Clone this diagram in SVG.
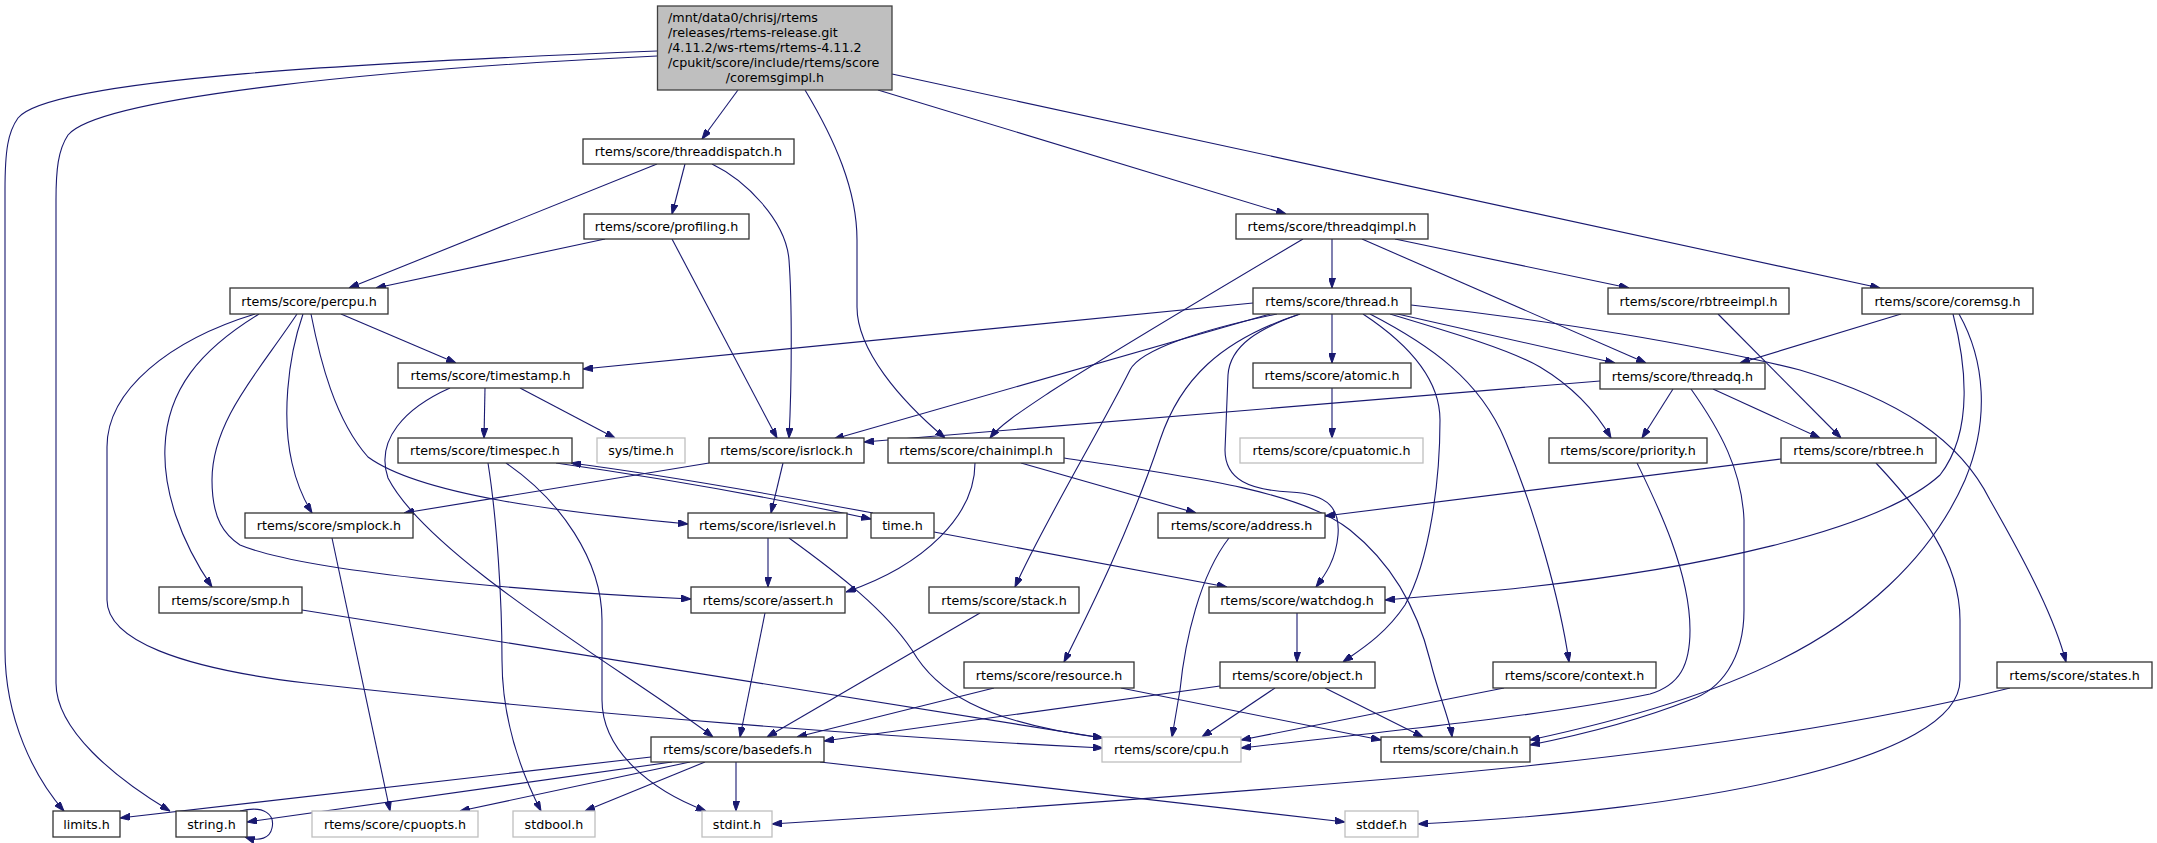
<svg xmlns="http://www.w3.org/2000/svg" width="2157" height="843" viewBox="0 0 2157 843">
<style>
.n rect{fill:#fff;stroke:#333;stroke-width:1.3}
.g rect{fill:#fff;stroke:#bfbfbf;stroke-width:1.3}
.r rect{fill:#bfbfbf;stroke:#404040;stroke-width:1.3}
text{font-family:"DejaVu Sans","Liberation Sans",sans-serif;font-size:12.7px;fill:#000}
.c{text-anchor:middle}
#edges path{fill:none;stroke:#191970;stroke-width:1.1;marker-end:url(#a)}
</style>
<defs>
<marker id="a" viewBox="0 0 10 7" refX="10" refY="3.5" markerWidth="10" markerHeight="7" markerUnits="userSpaceOnUse" orient="auto"><path d="M0,0L10,3.5L0,7z" fill="#191970" stroke="#191970" stroke-width="1"/></marker>
</defs>
<rect width="2157" height="843" fill="#fff"/>
<g id="edges">
<path d="M657,51 C380,62 50,78 18,118 C8,132 5,150 5,190 L5,650 C5,720 35,778 64,811"/>
<path d="M657,56 C400,68 100,96 68,135 C58,150 56,170 56,200 L56,683 C56,730 115,778 170,811"/>
<path d="M738,90 L702,139"/>
<path d="M805,90 C835,140 857,190 857,240 L857,307 C857,350 900,400 945,438"/>
<path d="M878,90 L1286,214"/>
<path d="M892,74 L1880,288"/>
<path d="M657,164 L349,288"/>
<path d="M685,164 L672,214"/>
<path d="M712,164 C745,180 786,220 789,260 C792,300 792,380 789,438"/>
<path d="M605,239 L376,288"/>
<path d="M672,239 L777,438"/>
<path d="M341,314 L456,363"/>
<path d="M303,314 C287,360 282,420 292,463 C297,485 304,500 312,513"/>
<path d="M259,314 C200,350 167,390 165,447 C163,490 180,540 212,587"/>
<path d="M255,314 C170,340 107,390 107,447 L107,600 C107,640 180,668 306,683 C600,716 900,738 1103,748"/>
<path d="M297,314 C260,370 212,420 212,480 C212,520 225,535 240,545 C300,570 500,590 691,599"/>
<path d="M311,314 C320,360 335,420 368,457 C420,495 560,512 688,524"/>
<path d="M485,388 L484,438"/>
<path d="M520,388 L615,438"/>
<path d="M450,388 C405,408 375,440 388,478 C430,560 640,680 713,737"/>
<path d="M488,463 C497,520 502,600 502,660 C502,720 520,770 541,811"/>
<path d="M506,463 C560,500 602,560 602,620 L602,700 C602,750 650,790 706,811"/>
<path d="M556,463 C640,475 760,495 871,519"/>
<path d="M873,513 C760,492 640,472 571,463"/>
<path d="M934,532 L1227,587"/>
<path d="M783,463 L771,513"/>
<path d="M709,463 L404,513"/>
<path d="M768,538 L768,587"/>
<path d="M789,538 C840,575 885,610 912,650 C935,690 980,722 1103,738"/>
<path d="M332,538 L390,811"/>
<path d="M302,610 L1103,738"/>
<path d="M975,463 C975,515 925,565 846,592"/>
<path d="M1021,463 L1196,513"/>
<path d="M1064,458 C1180,475 1300,490 1350,530 C1400,570 1420,620 1430,660 C1440,700 1450,720 1452,737"/>
<path d="M1229,538 C1200,575 1185,640 1180,690 L1172,737"/>
<path d="M980,613 L767,737"/>
<path d="M765,613 L740,737"/>
<path d="M994,688 L797,737"/>
<path d="M1220,686 L824,741"/>
<path d="M1121,688 L1381,740"/>
<path d="M1275,688 L1202,737"/>
<path d="M1325,688 L1423,737"/>
<path d="M1297,613 L1297,662"/>
<path d="M1504,688 L1241,740"/>
<path d="M1637,463 C1655,500 1690,570 1690,630 C1690,665 1680,685 1650,694 C1550,715 1400,730 1241,748"/>
<path d="M1953,314 C1965,360 1975,430 1940,475 C1880,530 1700,570 1500,590 L1385,600"/>
<path d="M1959,314 C1985,360 1990,420 1965,480 C1930,560 1860,620 1780,660 C1700,700 1600,725 1530,740"/>
<path d="M1901,314 L1740,363"/>
<path d="M1691,389 C1720,430 1742,470 1744,520 L1744,610 C1744,660 1720,690 1690,700 C1640,720 1580,735 1530,745"/>
<path d="M1673,389 L1642,438"/>
<path d="M1713,389 L1820,438"/>
<path d="M1600,381 L864,442"/>
<path d="M1718,314 L1841,438"/>
<path d="M1781,459 L1325,516"/>
<path d="M1876,463 C1920,510 1960,560 1960,620 L1960,680 C1960,760 1700,810 1418,824"/>
<path d="M2010,688 C1800,740 1550,765 1400,778 C1200,795 1000,810 772,824"/>
<path d="M1253,303 L583,369"/>
<path d="M1270,314 L834,439"/>
<path d="M1277,314 C1200,330 1140,350 1130,370 C1100,430 1040,530 1015,587"/>
<path d="M1300,314 C1220,340 1180,380 1160,440 C1130,530 1090,610 1064,662"/>
<path d="M1300,314 C1260,328 1230,345 1228,375 L1225,450 C1225,480 1250,490 1290,492 C1330,494 1340,510 1338,535 C1336,560 1325,575 1316,587"/>
<path d="M1332,314 L1332,363"/>
<path d="M1363,314 C1410,345 1440,380 1440,420 C1440,480 1430,560 1405,605 C1385,635 1360,650 1343,662"/>
<path d="M1370,314 C1430,345 1480,380 1505,440 C1535,510 1560,600 1569,662"/>
<path d="M1390,314 C1460,335 1510,350 1540,367 C1570,385 1595,410 1611,438"/>
<path d="M1393,313 L1615,363"/>
<path d="M1411,305 C1550,320 1700,345 1800,370 C1900,400 1960,440 1990,500 C2030,570 2055,620 2066,662"/>
<path d="M1332,239 L1332,288"/>
<path d="M1303,239 C1200,300 1100,360 1050,392 C1020,412 1000,425 990,438"/>
<path d="M1362,239 L1646,363"/>
<path d="M1395,239 L1629,288"/>
<path d="M1332,388 L1332,438"/>
<path d="M651,757 L120,818"/>
<path d="M672,762 L247,822"/>
<path d="M690,762 L460,811"/>
<path d="M705,762 L585,811"/>
<path d="M736,762 L736,811"/>
<path d="M820,762 L1345,822"/>
<path d="M240,811 C265,805 275,815 272,828 C270,838 260,842 245,837"/>
</g>
<g id="root" class="r"><rect x="657.5" y="6" width="234.5" height="84"/>
<text x="668" y="21.5">/mnt/data0/chrisj/rtems</text>
<text x="668" y="36.5">/releases/rtems-release.git</text>
<text x="668" y="51.5">/4.11.2/ws-rtems/rtems-4.11.2</text>
<text x="668" y="66.5">/cpukit/score/include/rtems/score</text>
<text x="775" y="81.5" class="c">/coremsgimpl.h</text></g>
<g id="threaddispatch" class="n"><rect x="583" y="139" width="211" height="25"/><text x="688.5" y="156" class="c">rtems/score/threaddispatch.h</text></g>
<g id="profiling" class="n"><rect x="584" y="214" width="165" height="25"/><text x="666.5" y="231" class="c">rtems/score/profiling.h</text></g>
<g id="threadqimpl" class="n"><rect x="1236" y="214" width="192" height="25"/><text x="1332" y="231" class="c">rtems/score/threadqimpl.h</text></g>
<g id="percpu" class="n"><rect x="230" y="288" width="158" height="26"/><text x="309" y="305.5" class="c">rtems/score/percpu.h</text></g>
<g id="thread" class="n"><rect x="1253" y="288" width="158" height="26"/><text x="1332" y="305.5" class="c">rtems/score/thread.h</text></g>
<g id="rbtreeimpl" class="n"><rect x="1608" y="288" width="181" height="26"/><text x="1698.5" y="305.5" class="c">rtems/score/rbtreeimpl.h</text></g>
<g id="coremsg" class="n"><rect x="1862" y="288" width="171" height="26"/><text x="1947.5" y="305.5" class="c">rtems/score/coremsg.h</text></g>
<g id="timestamp" class="n"><rect x="398" y="363" width="185" height="25"/><text x="490.5" y="380" class="c">rtems/score/timestamp.h</text></g>
<g id="atomic" class="n"><rect x="1253" y="363" width="158" height="25"/><text x="1332" y="380" class="c">rtems/score/atomic.h</text></g>
<g id="threadq" class="n"><rect x="1600" y="363" width="165" height="26"/><text x="1682.5" y="380.5" class="c">rtems/score/threadq.h</text></g>
<g id="timespec" class="n"><rect x="398" y="438" width="174" height="25"/><text x="485" y="455" class="c">rtems/score/timespec.h</text></g>
<g id="systime" class="g"><rect x="597" y="438" width="88" height="25"/><text x="641" y="455" class="c">sys/time.h</text></g>
<g id="isrlock" class="n"><rect x="709" y="438" width="155" height="25"/><text x="786.5" y="455" class="c">rtems/score/isrlock.h</text></g>
<g id="chainimpl" class="n"><rect x="888" y="438" width="176" height="25"/><text x="976" y="455" class="c">rtems/score/chainimpl.h</text></g>
<g id="cpuatomic" class="g"><rect x="1240" y="438" width="183" height="25"/><text x="1331.5" y="455" class="c">rtems/score/cpuatomic.h</text></g>
<g id="priority" class="n"><rect x="1549" y="438" width="158" height="25"/><text x="1628" y="455" class="c">rtems/score/priority.h</text></g>
<g id="rbtree" class="n"><rect x="1781" y="438" width="155" height="25"/><text x="1858.5" y="455" class="c">rtems/score/rbtree.h</text></g>
<g id="smplock" class="n"><rect x="245" y="513" width="168" height="25"/><text x="329" y="530" class="c">rtems/score/smplock.h</text></g>
<g id="isrlevel" class="n"><rect x="688" y="513" width="159" height="25"/><text x="767.5" y="530" class="c">rtems/score/isrlevel.h</text></g>
<g id="time" class="n"><rect x="871" y="513" width="63" height="25"/><text x="902.5" y="530" class="c">time.h</text></g>
<g id="address" class="n"><rect x="1158" y="513" width="167" height="25"/><text x="1241.5" y="530" class="c">rtems/score/address.h</text></g>
<g id="smp" class="n"><rect x="159" y="587" width="143" height="26"/><text x="230.5" y="604.5" class="c">rtems/score/smp.h</text></g>
<g id="assert" class="n"><rect x="691" y="587" width="154" height="26"/><text x="768" y="604.5" class="c">rtems/score/assert.h</text></g>
<g id="stack" class="n"><rect x="929" y="587" width="150" height="26"/><text x="1004" y="604.5" class="c">rtems/score/stack.h</text></g>
<g id="watchdog" class="n"><rect x="1209" y="587" width="176" height="26"/><text x="1297" y="604.5" class="c">rtems/score/watchdog.h</text></g>
<g id="resource" class="n"><rect x="964" y="662" width="170" height="26"/><text x="1049" y="679.5" class="c">rtems/score/resource.h</text></g>
<g id="object" class="n"><rect x="1220" y="662" width="155" height="26"/><text x="1297.5" y="679.5" class="c">rtems/score/object.h</text></g>
<g id="context" class="n"><rect x="1493" y="662" width="163" height="26"/><text x="1574.5" y="679.5" class="c">rtems/score/context.h</text></g>
<g id="states" class="n"><rect x="1997" y="662" width="155" height="26"/><text x="2074.5" y="679.5" class="c">rtems/score/states.h</text></g>
<g id="basedefs" class="n"><rect x="651" y="737" width="173" height="25"/><text x="737.5" y="754" class="c">rtems/score/basedefs.h</text></g>
<g id="cpu" class="g"><rect x="1102" y="737" width="139" height="25"/><text x="1171.5" y="754" class="c">rtems/score/cpu.h</text></g>
<g id="chain" class="n"><rect x="1381" y="737" width="149" height="25"/><text x="1455.5" y="754" class="c">rtems/score/chain.h</text></g>
<g id="limits" class="n"><rect x="53" y="811" width="67" height="26"/><text x="86.5" y="828.5" class="c">limits.h</text></g>
<g id="string" class="n"><rect x="176" y="811" width="71" height="26"/><text x="211.5" y="828.5" class="c">string.h</text></g>
<g id="cpuopts" class="g"><rect x="312" y="811" width="166" height="26"/><text x="395" y="828.5" class="c">rtems/score/cpuopts.h</text></g>
<g id="stdbool" class="g"><rect x="513" y="811" width="82" height="26"/><text x="554" y="828.5" class="c">stdbool.h</text></g>
<g id="stdint" class="g"><rect x="702" y="811" width="70" height="26"/><text x="737" y="828.5" class="c">stdint.h</text></g>
<g id="stddef" class="g"><rect x="1345" y="811" width="73" height="26"/><text x="1381.5" y="828.5" class="c">stddef.h</text></g>
</svg>
